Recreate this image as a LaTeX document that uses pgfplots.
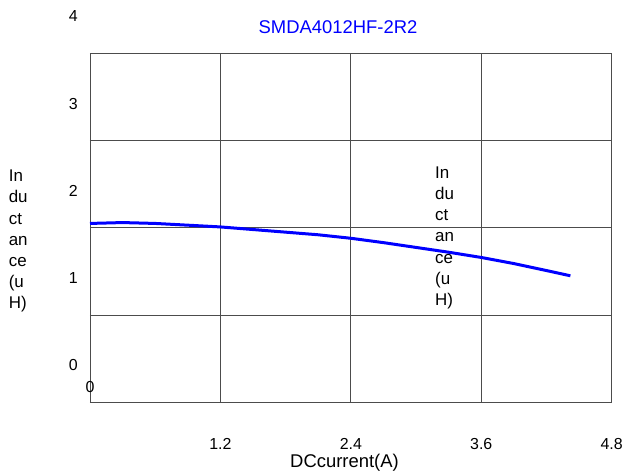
\documentclass[border=0pt]{standalone}
\usepackage{pgfplots}
\pgfplotsset{compat=1.18}
\usepackage{fontspec}
\setmainfont{Liberation Sans}
\begin{document}
\begin{tikzpicture}
\useasboundingbox (-90bp,-72.7bp) rectangle (532bp,402.3bp);
\begin{axis}[
  at={(0,0)}, anchor=south west,
  scale only axis, width=521.7bp, height=349bp,
  xmin=0, xmax=4.8, ymin=0, ymax=4,
  xtick={1.2,2.4,3.6,4.8}, xticklabels={1.2,2.4,3.6,4.8},
  ytick={0,1,2,3,4}, yticklabels={0,1,2,3,4},
  extra x ticks={0}, extra x tick labels={0},
  extra x tick style={grid=none, xticklabel style={yshift=56.5bp}},
  xmajorgrids, ymajorgrids,
  major tick length=0,
  /pgf/number format/assume math mode=true,
  grid style={black!70, line width=0.8bp},
  axis line style={black!70, line width=0.8bp},
  xticklabel style={anchor=base, inner sep=0, font=\fontsize{16}{19}\selectfont, yshift=-46.7bp},
  yticklabel style={anchor=east, inner sep=0, font=\fontsize{16}{19}\selectfont, xshift=-12bp, yshift=37bp},
  title={SMDA4012HF-2R2},
  title style={at={(axis description cs:0.4754,1.040)}, anchor=base, inner sep=0, text=blue, font=\fontsize{18.5}{22}\selectfont},
  xlabel={DCcurrent(A)},
  every axis x label/.style={at={(axis description cs:0.4878,-0.188)}, anchor=base, inner sep=0, font=\fontsize{18.5}{22}\selectfont},
  ylabel={In\\du\\ct\\an\\ce\\(u\\H)},
  every axis y label/.style={at={(axis description cs:-0.156,0.6656)}, anchor=north west, align=left, inner sep=0, font=\fontsize{17}{21.2}\selectfont},
]
\addplot[blue, line width=3bp, no markers] coordinates {
(0.0,2.05) (0.3,2.06) (0.6,2.05) (0.9,2.03) (1.2,2.01) (1.5,1.98)
(1.8,1.95) (2.1,1.92) (2.4,1.88) (2.7,1.83) (3.0,1.775) (3.3,1.72)
(3.6,1.66) (3.9,1.59) (4.2,1.51) (4.42,1.45)
};
\node[anchor=north west, align=left, inner sep=0, font=\fontsize{17}{21.2}\selectfont] at (axis cs:3.174,2.70) {In\\du\\ct\\an\\ce\\(u\\H)};
\end{axis}
\end{tikzpicture}
\end{document}
